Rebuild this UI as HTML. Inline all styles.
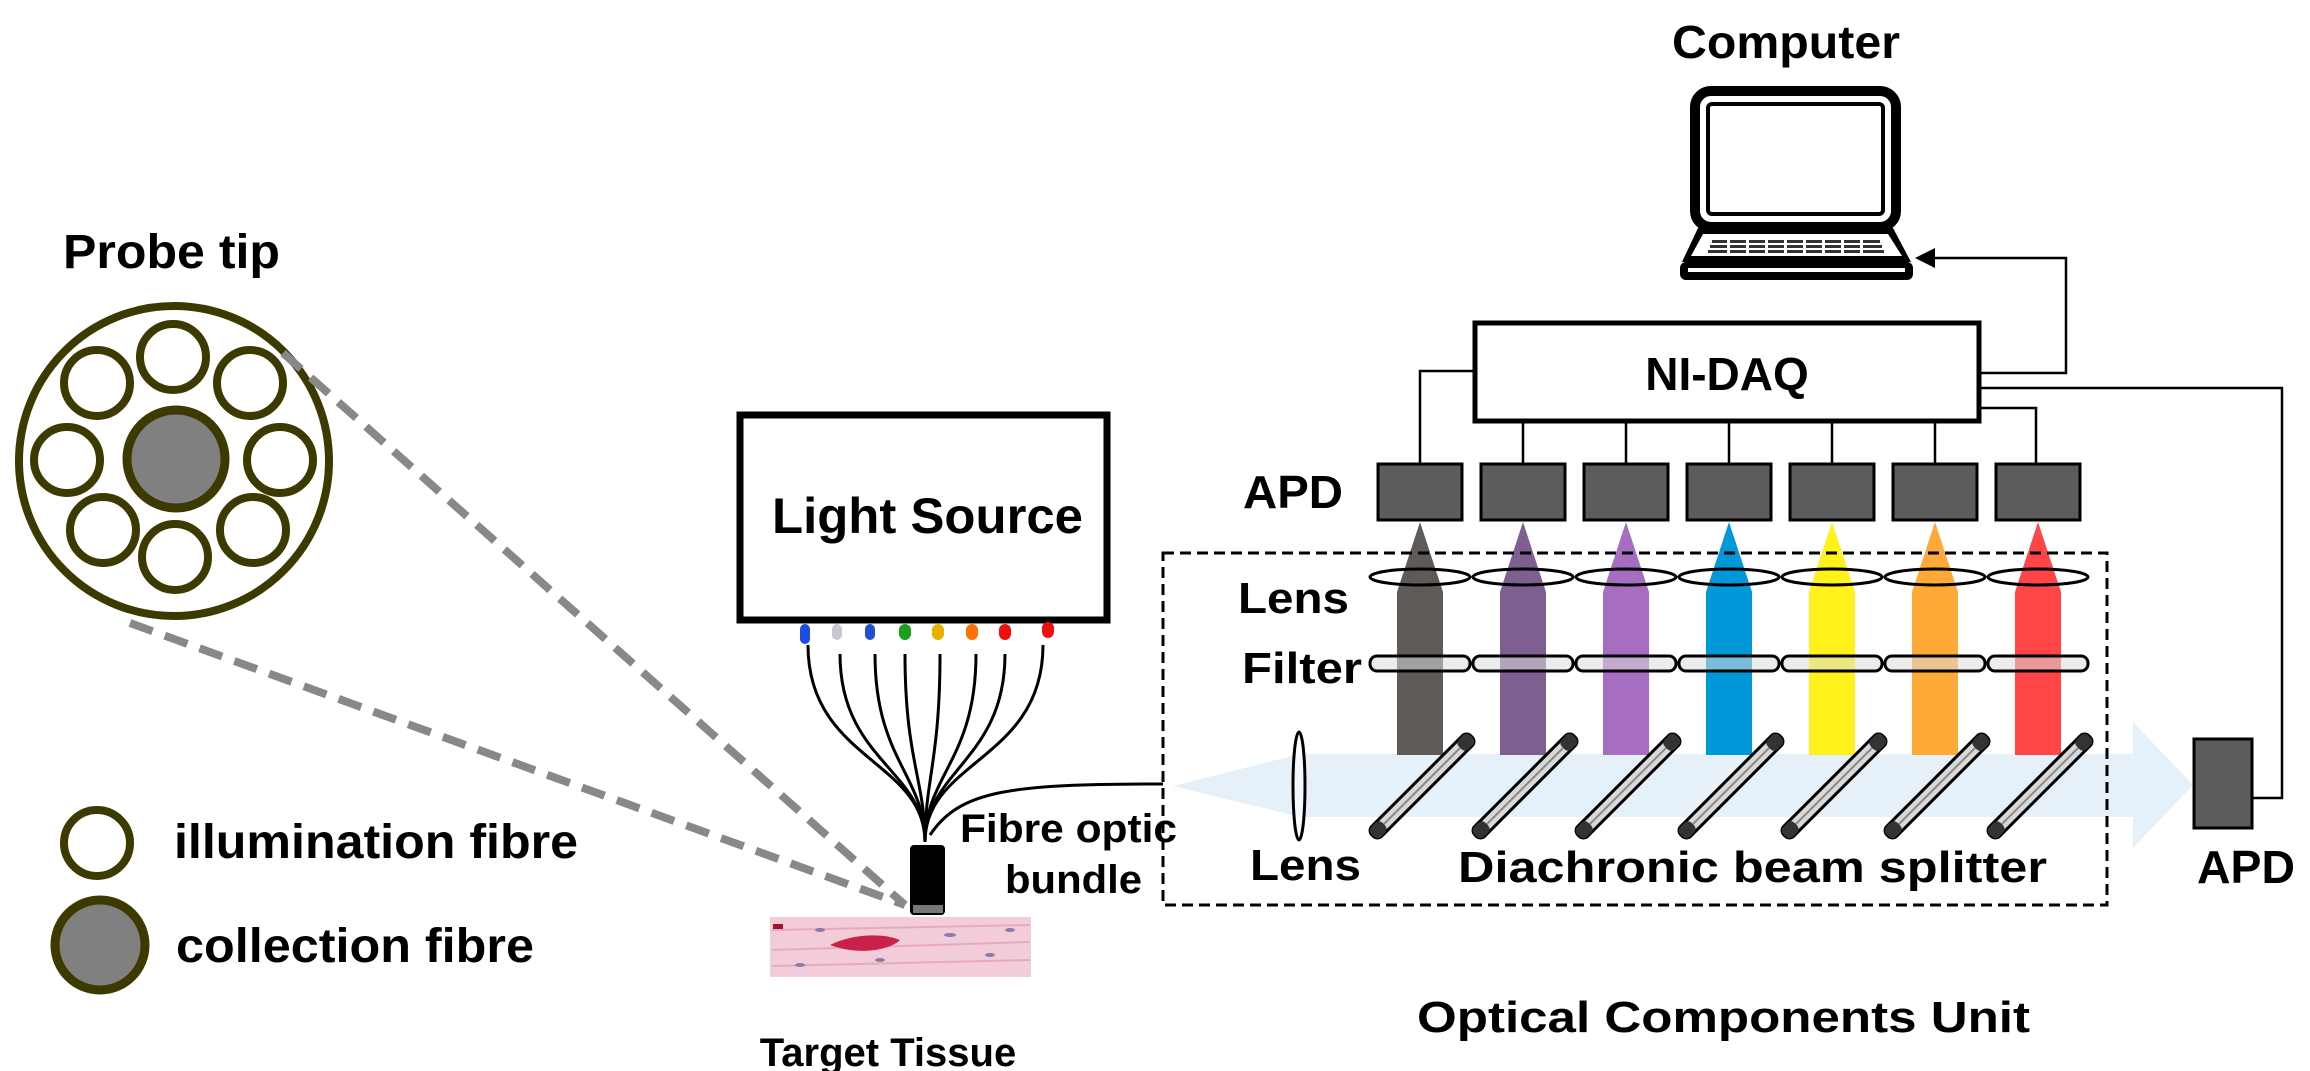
<!DOCTYPE html>
<html><head><meta charset="utf-8"><style>
html,body{margin:0;padding:0;background:#fff;}
svg{display:block;}
text{font-family:"Liberation Sans",sans-serif;font-weight:bold;fill:#000;}
</style></head><body>
<svg width="2310" height="1071" viewBox="0 0 2310 1071" xmlns="http://www.w3.org/2000/svg">
<defs>
<g id="spl">
<rect x="-70" y="-7" width="140" height="14" rx="6" fill="#d8d8d8" stroke="#000" stroke-width="3"/>
<line x1="-62" y1="0" x2="62" y2="0" stroke="#888" stroke-width="2"/>
<rect x="-70" y="-7" width="16" height="14" rx="5" fill="#333"/>
<rect x="54" y="-7" width="16" height="14" rx="5" fill="#333"/>
</g>
</defs>

<text x="63" y="268" font-size="48" textLength="217" lengthAdjust="spacingAndGlyphs">Probe tip</text>
<circle cx="174" cy="461" r="155" fill="#fff" stroke="#3d3a00" stroke-width="8"/>
<circle cx="176" cy="459" r="49" fill="#808080" stroke="#3d3a00" stroke-width="9"/>
<g fill="#fff" stroke="#3d3a00" stroke-width="8">
<circle cx="173" cy="357" r="33"/><circle cx="250" cy="383" r="33"/><circle cx="280" cy="460" r="33"/><circle cx="253" cy="530" r="33"/>
<circle cx="175" cy="557" r="33"/><circle cx="103" cy="530" r="33"/><circle cx="67" cy="460" r="33"/><circle cx="97" cy="383" r="33"/>
</g>
<g stroke="#888" stroke-width="8" stroke-dasharray="24,13" fill="none">
<line x1="283" y1="353" x2="905" y2="905"/>
<line x1="130" y1="623" x2="905" y2="905"/>
</g>

<circle cx="97" cy="843" r="33" fill="#fff" stroke="#3d3a00" stroke-width="8"/>
<text x="174" y="858" font-size="48" textLength="404" lengthAdjust="spacingAndGlyphs">illumination fibre</text>
<circle cx="100" cy="945" r="45" fill="#808080" stroke="#3d3a00" stroke-width="9"/>
<text x="176" y="962" font-size="48" textLength="358" lengthAdjust="spacingAndGlyphs">collection fibre</text>

<rect x="740" y="415" width="367" height="205" fill="#fff" stroke="#000" stroke-width="7"/>
<text x="772" y="533" font-size="50" textLength="311" lengthAdjust="spacingAndGlyphs">Light Source</text>
<g>
<rect x="800" y="624" width="10" height="20" rx="5" fill="#1a4fe0"/>
<rect x="832" y="624" width="10" height="16" rx="5" fill="#c8c8d0"/>
<rect x="865" y="624" width="10" height="16" rx="5" fill="#2050d0"/>
<rect x="899" y="624" width="12" height="16" rx="6" fill="#1aa01a"/>
<rect x="932" y="624" width="12" height="16" rx="6" fill="#e8b000"/>
<rect x="966" y="624" width="12" height="16" rx="6" fill="#ff7000"/>
<rect x="999" y="624" width="12" height="16" rx="6" fill="#ee1010"/>
<rect x="1042" y="622" width="12" height="16" rx="6" fill="#ee1010"/>
</g>
<g fill="none" stroke="#000" stroke-width="3">
<path d="M808,645 C808,760 925,760 925,842"/>
<path d="M840,654 C840,760 925,770 925,842"/>
<path d="M875,654 C875,760 925,775 925,842"/>
<path d="M905,654 C905,760 925,780 925,842"/>
<path d="M940,654 C940,760 925,780 925,842"/>
<path d="M976,654 C976,760 925,775 925,842"/>
<path d="M1005,654 C1005,760 925,770 925,842"/>
<path d="M1043,645 C1043,760 925,760 925,842"/>
<path d="M930,835 C960,790 1010,784 1163,784"/>
</g>
<rect x="910" y="845" width="35" height="70" rx="4" fill="#000"/>
<rect x="913" y="905" width="30" height="8" fill="#777"/>
<text x="960" y="842" font-size="40" textLength="217" lengthAdjust="spacingAndGlyphs">Fibre optic</text>
<text x="1005" y="893" font-size="40" textLength="137" lengthAdjust="spacingAndGlyphs">bundle</text>

<rect x="770" y="917" width="261" height="60" fill="#f2ccd8"/>
<g stroke="#e7aabd" stroke-width="2">
<line x1="772" y1="930" x2="1030" y2="925"/><line x1="772" y1="950" x2="1030" y2="942"/><line x1="772" y1="966" x2="1030" y2="960"/>
</g>
<path d="M830,945 C850,935 880,932 900,940 C890,950 860,956 830,945 Z" fill="#c8224a"/>
<rect x="773" y="924" width="10" height="5" fill="#a81030"/>
<g fill="#8a7ab0"><ellipse cx="820" cy="930" rx="5" ry="2"/><ellipse cx="880" cy="960" rx="5" ry="2"/><ellipse cx="950" cy="935" rx="6" ry="2"/><ellipse cx="990" cy="955" rx="5" ry="2"/><ellipse cx="800" cy="965" rx="5" ry="2"/><ellipse cx="1010" cy="930" rx="5" ry="2"/></g>
<text x="888" y="1066" font-size="40" text-anchor="middle">Target Tissue</text>

<text x="1672" y="58" font-size="46" textLength="228" lengthAdjust="spacingAndGlyphs">Computer</text>
<rect x="1695" y="91" width="201" height="136" rx="16" fill="#fff" stroke="#000" stroke-width="10"/>
<rect x="1708" y="104" width="175" height="110" rx="4" fill="#fff" stroke="#000" stroke-width="4"/>
<path d="M1698,228 L1893,228 L1911,262 L1682,262 Z" fill="#000"/>
<path d="M1703,234 L1888,234 L1902,256 L1691,256 Z" fill="#fff"/>
<g fill="#333">
<rect x="1712" y="240" width="168" height="3"/><rect x="1710" y="245" width="172" height="3"/><rect x="1708" y="250" width="176" height="3"/>
</g>
<g fill="#fff"><rect x="1727" y="238" width="3" height="17"/><rect x="1746" y="238" width="3" height="17"/><rect x="1765" y="238" width="3" height="17"/><rect x="1784" y="238" width="3" height="17"/><rect x="1803" y="238" width="3" height="17"/><rect x="1822" y="238" width="3" height="17"/><rect x="1841" y="238" width="3" height="17"/><rect x="1860" y="238" width="3" height="17"/></g>
<rect x="1680" y="262" width="233" height="18" rx="6" fill="#000"/>
<rect x="1688" y="268" width="217" height="4" fill="#fff"/>

<rect x="1475" y="323" width="504" height="98" fill="#fff" stroke="#000" stroke-width="5"/>
<text x="1727" y="390" font-size="46" text-anchor="middle">NI-DAQ</text>
<g fill="none" stroke="#000" stroke-width="2.5">
<path d="M1981,373 L2066,373 L2066,258 L1930,258"/>
<path d="M1981,388 L2282,388 L2282,798 L2252,798"/>
<path d="M1981,408 L2036,408 L2036,463"/>
<path d="M1420,463 L1420,371 L1475,371"/>
<line x1="1523" y1="423" x2="1523" y2="463"/><line x1="1626" y1="423" x2="1626" y2="463"/><line x1="1729" y1="423" x2="1729" y2="463"/><line x1="1832" y1="423" x2="1832" y2="463"/><line x1="1935" y1="423" x2="1935" y2="463"/>
</g>
<path d="M1915,258 L1935,248 L1935,268 Z" fill="#000"/>

<text x="1243" y="508" font-size="46" textLength="100" lengthAdjust="spacingAndGlyphs">APD</text>
<g fill="#5c5c5c" stroke="#000" stroke-width="3">
<rect x="1378" y="464" width="84" height="56"/><rect x="1481" y="464" width="84" height="56"/><rect x="1584" y="464" width="84" height="56"/><rect x="1687" y="464" width="84" height="56"/><rect x="1790" y="464" width="84" height="56"/><rect x="1893" y="464" width="84" height="56"/><rect x="1996" y="464" width="84" height="56"/>
<rect x="2194" y="739" width="58" height="89"/>
</g>
<text x="2197" y="883" font-size="46" textLength="98" lengthAdjust="spacingAndGlyphs">APD</text>

<path d="M1173,786 L1300,754 L2133,754 L2133,722 L2193,785 L2133,848 L2133,817 L1300,817 Z" fill="#cfe3f3" opacity="0.55"/>

<g>
<path d="M1420,522 L1443,592 L1443,755 L1397,755 L1397,592 Z" fill="#5e5a58"/>
<path d="M1523,522 L1546,592 L1546,755 L1500,755 L1500,592 Z" fill="#7f5f92"/>
<path d="M1626,522 L1649,592 L1649,755 L1603,755 L1603,592 Z" fill="#a66dc0"/>
<path d="M1729,522 L1752,592 L1752,755 L1706,755 L1706,592 Z" fill="#0098d8"/>
<path d="M1832,522 L1855,592 L1855,755 L1809,755 L1809,592 Z" fill="#fff21a"/>
<path d="M1935,522 L1958,592 L1958,755 L1912,755 L1912,592 Z" fill="#ffaa38"/>
<path d="M2038,522 L2061,592 L2061,755 L2015,755 L2015,592 Z" fill="#ff4545"/>
</g>
<g fill="none" stroke="#000" stroke-width="3">
<ellipse cx="1420" cy="577" rx="50" ry="8"/><ellipse cx="1523" cy="577" rx="50" ry="8"/><ellipse cx="1626" cy="577" rx="50" ry="8"/><ellipse cx="1729" cy="577" rx="50" ry="8"/><ellipse cx="1832" cy="577" rx="50" ry="8"/><ellipse cx="1935" cy="577" rx="50" ry="8"/><ellipse cx="2038" cy="577" rx="50" ry="8"/>
</g>
<g fill="#dcdcdc" fill-opacity="0.55" stroke="#000" stroke-width="3">
<rect x="1370" y="656" width="100" height="15" rx="7"/><rect x="1473" y="656" width="100" height="15" rx="7"/><rect x="1576" y="656" width="100" height="15" rx="7"/><rect x="1679" y="656" width="100" height="15" rx="7"/><rect x="1782" y="656" width="100" height="15" rx="7"/><rect x="1885" y="656" width="100" height="15" rx="7"/><rect x="1988" y="656" width="100" height="15" rx="7"/>
</g>
<ellipse cx="1299" cy="786" rx="6" ry="54" fill="#fff" fill-opacity="0.5" stroke="#000" stroke-width="3"/>
<use href="#spl" transform="translate(1422,786) rotate(-45)"/>
<use href="#spl" transform="translate(1525,786) rotate(-45)"/>
<use href="#spl" transform="translate(1628,786) rotate(-45)"/>
<use href="#spl" transform="translate(1731,786) rotate(-45)"/>
<use href="#spl" transform="translate(1834,786) rotate(-45)"/>
<use href="#spl" transform="translate(1937,786) rotate(-45)"/>
<use href="#spl" transform="translate(2040,786) rotate(-45)"/>

<rect x="1163" y="553" width="944" height="352" fill="none" stroke="#000" stroke-width="3" stroke-dasharray="11,6"/>
<text x="1238" y="613" font-size="44" textLength="111" lengthAdjust="spacingAndGlyphs">Lens</text>
<text x="1242" y="683" font-size="44" textLength="120" lengthAdjust="spacingAndGlyphs">Filter</text>
<text x="1250" y="880" font-size="44" textLength="111" lengthAdjust="spacingAndGlyphs">Lens</text>
<text x="1458" y="882" font-size="44" textLength="589" lengthAdjust="spacingAndGlyphs">Diachronic beam splitter</text>
<text x="1417" y="1032" font-size="44" textLength="613" lengthAdjust="spacingAndGlyphs">Optical Components Unit</text>
</svg>
</body></html>
